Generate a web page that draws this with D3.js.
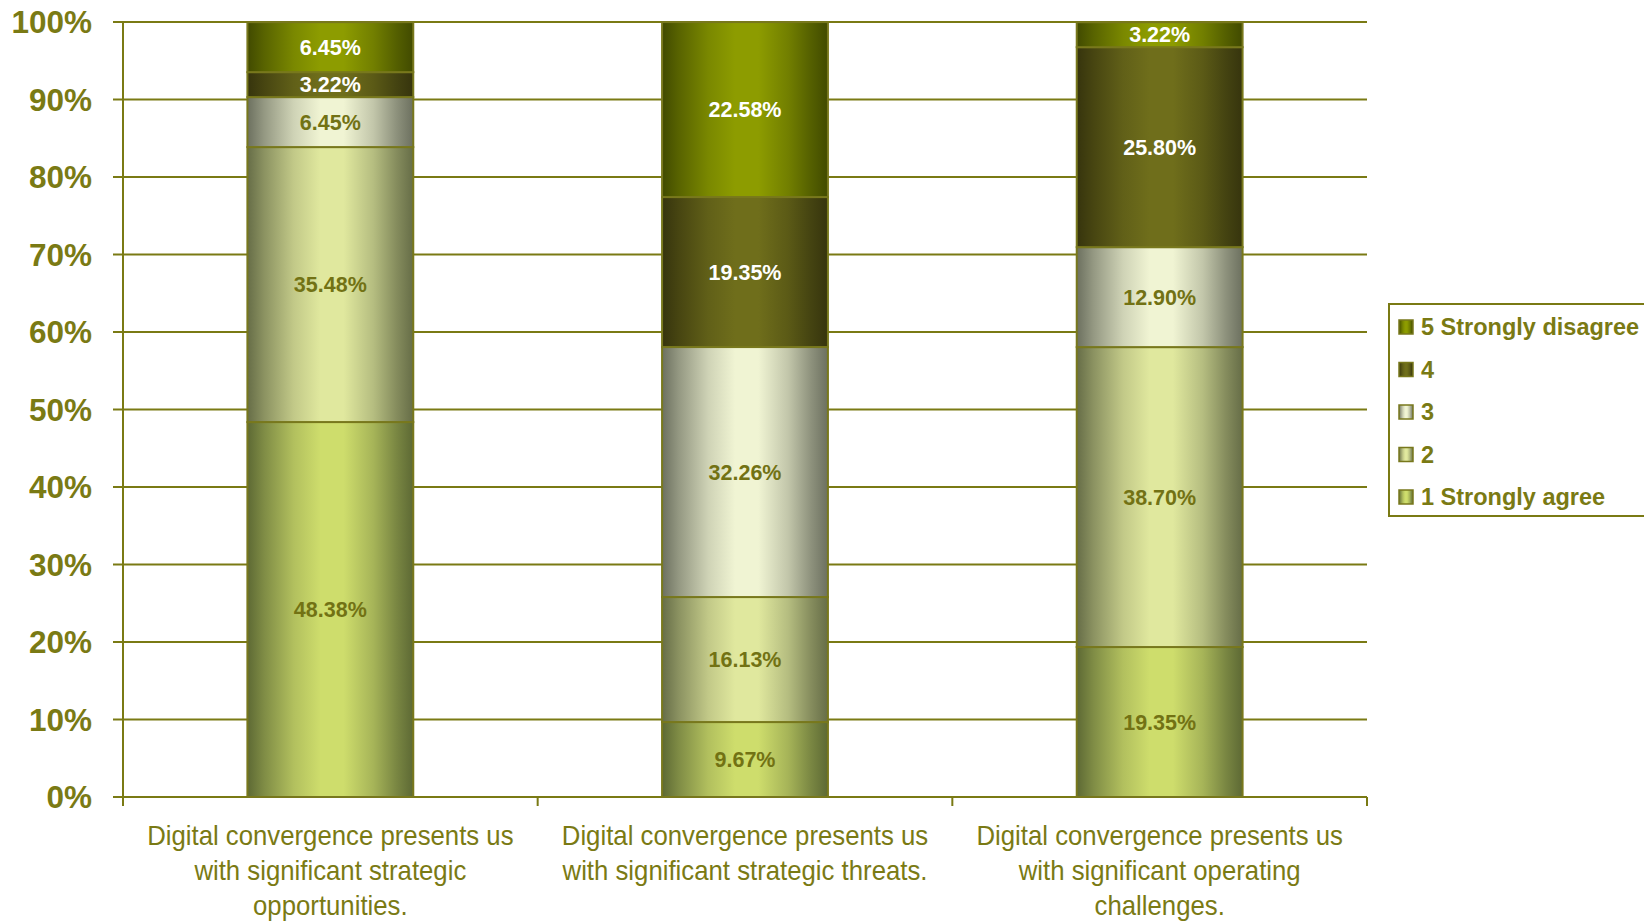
<!DOCTYPE html>
<html>
<head>
<meta charset="utf-8">
<script src="https://cdn.jsdelivr.net/npm/d3@7/dist/d3.min.js"></script>
<style>
  body { margin: 0; background: #ffffff; }
  svg { display: block; }
</style>
</head>
<body>
<svg id="chart" width="1644" height="921"></svg>
<script>
// Survey statements (x categories), split into display lines
const categories = [
  "Digital convergence presents us with significant strategic opportunities.",
  "Digital convergence presents us with significant strategic threats.",
  "Digital convergence presents us with significant operating challenges."
];
const categoryLines = [
  ["Digital convergence presents us", "with significant strategic", "opportunities."],
  ["Digital convergence presents us", "with significant strategic threats."],
  ["Digital convergence presents us", "with significant operating", "challenges."]
];

// Response scale, bottom of the stack first
const seriesNames = ["1 Strongly agree", "2", "3", "4", "5 Strongly disagree"];

// Share of respondents (%) per statement, one array per response level
const stronglyAgree    = [48.38, 9.67, 19.35];
const agree            = [35.48, 16.13, 38.70];
const neutral          = [6.45, 32.26, 12.90];
const disagree         = [3.22, 19.35, 25.80];
const stronglyDisagree = [6.45, 22.58, 3.22];

const yTicks = [0, 10, 20, 30, 40, 50, 60, 70, 80, 90, 100];

// ---- styling ----
const olive = "#7a7a14";
const labelOlive = "#727214";
// [edge, center] colours for the cylinder-like shading of each level
const shades = [
  ["#5d6934", "#cedd6c"],
  ["#666d47", "#e0e89e"],
  ["#6c705f", "#f0f4d3"],
  ["#36340d", "#6f6e1b"],
  ["#414a00", "#8d9c00"]
];
const labelColors = [labelOlive, labelOlive, labelOlive, "#ffffff", "#ffffff"];

const svg = d3.select("#chart");
const plot = { left: 123, right: 1367, top: 22, bottom: 797 };

// table for the stack layout
const levels = [stronglyAgree, agree, neutral, disagree, stronglyDisagree];
const table = categories.map((c, i) => {
  const row = { category: c };
  seriesNames.forEach((s, k) => { row[s] = levels[k][i]; });
  return row;
});
const stacked = d3.stack().keys(seriesNames)(table);

const x = d3.scaleBand()
  .domain(categories)
  .range([plot.left, plot.right])
  .paddingInner(0.6)
  .paddingOuter(0.3);
const y = d3.scaleLinear().domain([0, 100]).range([plot.bottom, plot.top]);

// gradients
const defs = svg.append("defs");
shades.forEach((c, k) => {
  const g = defs.append("linearGradient")
    .attr("id", "shade" + k)
    .attr("x1", 0).attr("x2", 1).attr("y1", 0).attr("y2", 0);
  const mid = d3.interpolateRgb(c[0], c[1]);
  [[0, 0], [0.1, 0.3], [0.28, 0.75], [0.44, 1], [0.58, 1], [0.76, 0.65], [0.9, 0.25], [1, 0]]
    .forEach(([o, t]) => g.append("stop").attr("offset", o).attr("stop-color", mid(t)));
});

// horizontal gridlines with outward ticks
svg.append("g")
  .selectAll("line")
  .data(yTicks)
  .join("line")
  .attr("x1", plot.left - 10)
  .attr("x2", plot.right)
  .attr("y1", d => y(d))
  .attr("y2", d => y(d))
  .attr("stroke", olive)
  .attr("stroke-width", 2);

// y axis line
svg.append("line")
  .attr("x1", plot.left).attr("x2", plot.left)
  .attr("y1", plot.top).attr("y2", plot.bottom + 9)
  .attr("stroke", olive).attr("stroke-width", 2);

// category separators on the x axis
const step = x.step();
svg.append("g")
  .selectAll("line")
  .data(d3.range(categories.length + 1))
  .join("line")
  .attr("x1", i => plot.left + i * step)
  .attr("x2", i => plot.left + i * step)
  .attr("y1", plot.bottom)
  .attr("y2", plot.bottom + 9)
  .attr("stroke", olive)
  .attr("stroke-width", 2);

// y tick labels
svg.append("g")
  .selectAll("text")
  .data(yTicks)
  .join("text")
  .attr("x", 92)
  .attr("y", d => y(d))
  .attr("dy", "0.36em")
  .attr("text-anchor", "end")
  .attr("font-family", "Liberation Sans, Arial, sans-serif")
  .attr("font-weight", "bold")
  .attr("font-size", 31.5)
  .attr("fill", olive)
  .text(d => d + "%");

// stacked segments
const layers = svg.append("g")
  .selectAll("g")
  .data(stacked)
  .join("g")
  .attr("fill", (d, k) => `url(#shade${k})`);

layers.selectAll("rect")
  .data(d => d)
  .join("rect")
  .attr("x", d => x(d.data.category))
  .attr("width", x.bandwidth())
  .attr("y", d => y(d[1]))
  .attr("height", d => y(d[0]) - y(d[1]))
  .attr("stroke", "#78781c")
  .attr("stroke-width", 2);

// value labels
svg.append("g")
  .selectAll("g")
  .data(stacked)
  .join("g")
  .attr("fill", (d, k) => labelColors[k])
  .selectAll("text")
  .data(d => d)
  .join("text")
  .attr("x", d => x(d.data.category) + x.bandwidth() / 2)
  .attr("y", d => y((d[0] + d[1]) / 2))
  .attr("dy", "0.36em")
  .attr("text-anchor", "middle")
  .attr("font-family", "Liberation Sans, Arial, sans-serif")
  .attr("font-weight", "bold")
  .attr("font-size", 21.5)
  .text(d => (d[1] - d[0]).toFixed(2) + "%");

// category labels
const catG = svg.append("g")
  .selectAll("g")
  .data(categories)
  .join("g")
  .attr("transform", (c) => `translate(${x(c) + x.bandwidth() / 2},845) scale(0.92,1)`);
catG.selectAll("text")
  .data((c, i) => categoryLines[i])
  .join("text")
  .attr("x", 0)
  .attr("y", (d, j) => j * 35)
  .attr("text-anchor", "middle")
  .attr("font-family", "Liberation Sans, Arial, sans-serif")
  .attr("font-size", 28)
  .attr("fill", olive)
  .text(d => d);

// legend
const legend = svg.append("g");
legend.append("rect")
  .attr("x", 1389).attr("y", 304)
  .attr("width", 300).attr("height", 212)
  .attr("fill", "#ffffff")
  .attr("stroke", olive)
  .attr("stroke-width", 2);
const legendOrder = seriesNames.map((s, k) => k).reverse();
const items = legend.selectAll("g.item")
  .data(legendOrder)
  .join("g")
  .attr("class", "item")
  .attr("transform", (k, i) => `translate(1399,${327 + i * 42.5})`);
items.append("rect")
  .attr("x", 0).attr("y", -7)
  .attr("width", 14).attr("height", 14)
  .attr("fill", k => `url(#shade${k})`)
  .attr("stroke", "#78781c")
  .attr("stroke-width", 1.5);
items.append("text")
  .attr("x", 22)
  .attr("dy", "0.36em")
  .attr("font-family", "Liberation Sans, Arial, sans-serif")
  .attr("font-weight", "bold")
  .attr("font-size", 23.5)
  .attr("fill", olive)
  .text(k => seriesNames[k]);
</script>
</body>
</html>
